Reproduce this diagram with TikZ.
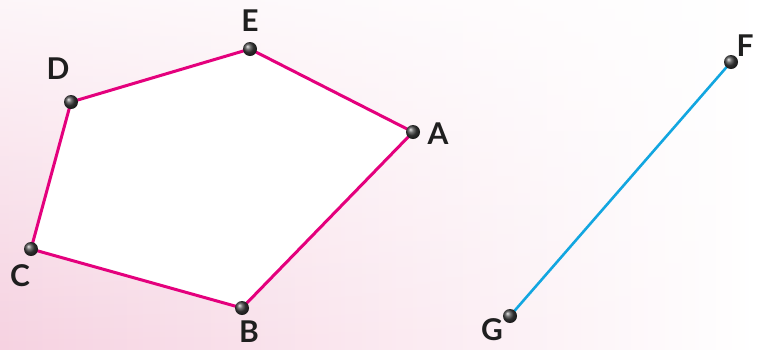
\documentclass[tikz,border=0pt]{standalone}
\usepackage{fontspec}
\setmainfont{Lato}
\usetikzlibrary{fadings}
\definecolor{mag}{HTML}{E4007D}
\definecolor{cy}{HTML}{12A6E0}
\definecolor{bgpink}{RGB}{246,210,225}
\begin{document}
\begin{tikzpicture}[x=1pt,y=-1pt,
  pt/.style={circle,inner sep=0pt,minimum size=14pt,shading=ball,ball color=black!75},
  lab/.style={font=\fontsize{30}{30}\selectfont\bfseries,text=black!88,inner sep=0pt},
  edge/.style={draw=mag,line width=3pt},
  seg/.style={draw=cy,line width=2.6pt}]
\path[use as bounding box] (0,0) rectangle (757,349);
\shade[left color=bgpink,right color=white,middle color=bgpink!50] (0,0) rectangle (757,349);
\fill[white,path fading=south,opacity=0.8] (0,0) rectangle (757,349);
\coordinate (pA) at (413,132);
\coordinate (pB) at (242,308);
\coordinate (pC) at (31,249);
\coordinate (pD) at (71,102);
\coordinate (pE) at (250,49);
\coordinate (pF) at (731,62);
\coordinate (pG) at (510,316);
\fill[white] (pA)--(pB)--(pC)--(pD)--(pE)--cycle;
\draw[edge,line join=round] (pA)--(pB)--(pC)--(pD)--(pE)--cycle;
\draw[seg] (pF)--(pG);
\foreach \p in {A,B,C,D,E,F,G} \node[pt] (n\p) at (p\p) {};
\node[lab] (lA) at (438,134) {A};
\node[lab] (lB) at (249,332) {B};
\node[lab] (lC) at (20,276) {C};
\node[lab] (lD) at (58,69) {D};
\node[lab] (lE) at (250,21) {E};
\node[lab] (lF) at (745,46) {F};
\node[lab] (lG) at (492,330) {G};
\end{tikzpicture}
\end{document}
